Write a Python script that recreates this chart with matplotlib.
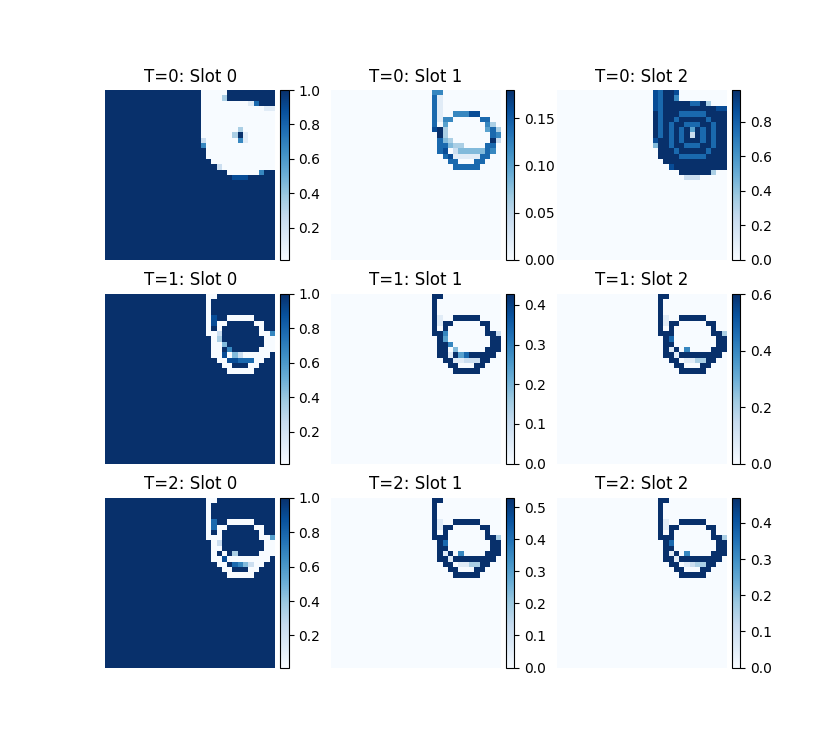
import matplotlib
matplotlib.use("Agg")
import matplotlib.pyplot as plt
import numpy as np
from mpl_toolkits.axes_grid1 import make_axes_locatable

# Each grid: 32 rows x 32 columns of levels '0'..'9' (0 = panel minimum, 9 = panel maximum)
L0 = "0" * 18   # left part of a row (columns 0-17) for slots 1 and 2
L9 = "9" * 18   # left part of a row (columns 0-17) for slot 0
Z32 = "0" * 32
N32 = "9" * 32

T0_SLOT0 = [
    L9 + "00000999999999",
    L9 + "00003999999999",
    L9 + "00000000017999",
    L9 + "00000000000011",
    L9 + "00000000000000",
    L9 + "00000000000000",
    L9 + "00000000000000",
    L9 + "00000003000000",
    L9 + "00000039100000",
    L9 + "20000006100000",
    L9 + "60000000000000",
    L9 + "90000000000000",
    L9 + "90000000000000",
    L9 + "99000000000000",
    L9 + "99920000000000",
    L9 + "99999000000699",
    L9 + "99999988899999",
] + [N32] * 15

T0_SLOT1 = [
    L0 + "06600000000000",
    L0 + "07100000000000",
    L0 + "07100000000000",
    L0 + "07100000000000",
    L0 + "07100666880000",
    L0 + "07166000007700",
    L0 + "07050000000630",
    L0 + "08930000000573",
    L0 + "00930000000076",
    L0 + "00743000000092",
    L0 + "00774330000770",
    L0 + "00780244444760",
    L0 + "00078111117700",
    L0 + "00007700077000",
    L0 + "00000777770000",
] + [Z32] * 17

T0_SLOT2 = [
    L0 + "87998000000000",
    L0 + "87996000000000",
    L0 + "87999997793000",
    L0 + "87999999999988",
    L0 + "97999777779999",
    L0 + "97997999997999",
    L0 + "97979977799799",
    L0 + "97979795979799",
    L0 + "97979792979799",
    L0 + "89979799979799",
    L0 + "49979977799799",
    L0 + "09997999997999",
    L0 + "09999777779999",
    L0 + "00999999999999",
    L0 + "00089999999999",
    L0 + "00000999999300",
    L0 + "00000022200000",
] + [Z32] * 15

T1_SLOT0 = [
    L9 + "90099999999999",
    L9 + "90999999999999",
    L9 + "90999999999999",
    L9 + "90999999999999",
    L9 + "90899000009999",
    L9 + "90800999990099",
    L9 + "90909999999099",
    L9 + "90029999999006",
    L9 + "99039999999900",
    L9 + "99004999999900",
    L9 + "99009699999000",
    L9 + "99008042000009",
    L9 + "99900887770099",
    L9 + "99990099900999",
    L9 + "99999000009999",
] + [N32] * 17

T1_SLOT1 = [
    L0 + "09900000000000",
    L0 + "09000000000000",
    L0 + "09000000000000",
    L0 + "09000000000000",
    L0 + "09100999990000",
    L0 + "09199000009900",
    L0 + "09090000000900",
    L0 + "09960000000992",
    L0 + "00950000000099",
    L0 + "00996000000099",
    L0 + "00990400000999",
    L0 + "00991957999990",
    L0 + "00099112229900",
    L0 + "00009900099000",
    L0 + "00000999990000",
] + [Z32] * 17

T1_SLOT2 = [
    L0 + "09900000000000",
    L0 + "09000000000000",
    L0 + "09000000000000",
    L0 + "09000000000000",
    L0 + "09100999990000",
    L0 + "09199000009900",
    L0 + "09090000000900",
    L0 + "09990000000993",
    L0 + "00970000000099",
    L0 + "00990000000099",
    L0 + "00919060000999",
    L0 + "00991999999990",
    L0 + "00099011339900",
    L0 + "00009900099000",
    L0 + "00000999990000",
] + [Z32] * 17

T2_SLOT0 = [
    L9 + "90099999999999",
    L9 + "90999999999999",
    L9 + "90999999999999",
    L9 + "90999999999999",
    L9 + "90799000009999",
    L9 + "90700999990099",
    L9 + "90909999999099",
    L9 + "90009999999005",
    L9 + "99029999999900",
    L9 + "99009999999900",
    L9 + "99090939999000",
    L9 + "99008000000009",
    L9 + "99900976420099",
    L9 + "99990099900999",
    L9 + "99999000009999",
] + [N32] * 17

T2_SLOT1 = [
    L0 + "09900000000000",
    L0 + "09000000000000",
    L0 + "09000000000000",
    L0 + "09000000000000",
    L0 + "09100999990000",
    L0 + "09199000009900",
    L0 + "09090000000900",
    L0 + "09990000000993",
    L0 + "00970000000099",
    L0 + "00990000000099",
    L0 + "00919060000999",
    L0 + "00991999999990",
    L0 + "00099011339900",
    L0 + "00009900099000",
    L0 + "00000999990000",
] + [Z32] * 17

T2_SLOT2 = [
    L0 + "09900000000000",
    L0 + "09000000000000",
    L0 + "09000000000000",
    L0 + "09000000000000",
    L0 + "09100999990000",
    L0 + "09199000009900",
    L0 + "09090000000900",
    L0 + "09990000000993",
    L0 + "00970000000099",
    L0 + "00990000000099",
    L0 + "00919060000999",
    L0 + "00991999999990",
    L0 + "00099012339900",
    L0 + "00009900099000",
    L0 + "00000999990000",
] + [Z32] * 17

GRIDS = [
    [T0_SLOT0, T0_SLOT1, T0_SLOT2],
    [T1_SLOT0, T1_SLOT1, T1_SLOT2],
    [T2_SLOT0, T2_SLOT1, T2_SLOT2],
]
VMIN = [
    [0.014, 0.0, 0.0],
    [0.014, 0.0, 0.0],
    [0.014, 0.0, 0.0],
]
VMAX = [
    [1.0, 0.18, 0.985],
    [1.0, 0.428, 0.601],
    [1.0, 0.53, 0.47],
]
TITLES = [
    ["T=0: Slot 0", "T=0: Slot 1", "T=0: Slot 2"],
    ["T=1: Slot 0", "T=1: Slot 1", "T=1: Slot 2"],
    ["T=2: Slot 0", "T=2: Slot 1", "T=2: Slot 2"],
]

fig, axes = plt.subplots(3, 3, figsize=(8.25, 7.5), dpi=100)
for i in range(3):
    for j in range(3):
        ax = axes[i][j]
        rows = GRIDS[i][j]
        lev = np.array([[int(c) for c in r] for r in rows], dtype=float) / 9.0
        data = VMIN[i][j] + lev * (VMAX[i][j] - VMIN[i][j])
        im = ax.imshow(data, cmap="Blues")
        ax.set_title(TITLES[i][j])
        ax.axis("off")
        divider = make_axes_locatable(ax)
        cax = divider.append_axes("right", size="5%", pad=0.05)
        fig.colorbar(im, cax=cax)

fig.savefig("out.png", dpi=100)
